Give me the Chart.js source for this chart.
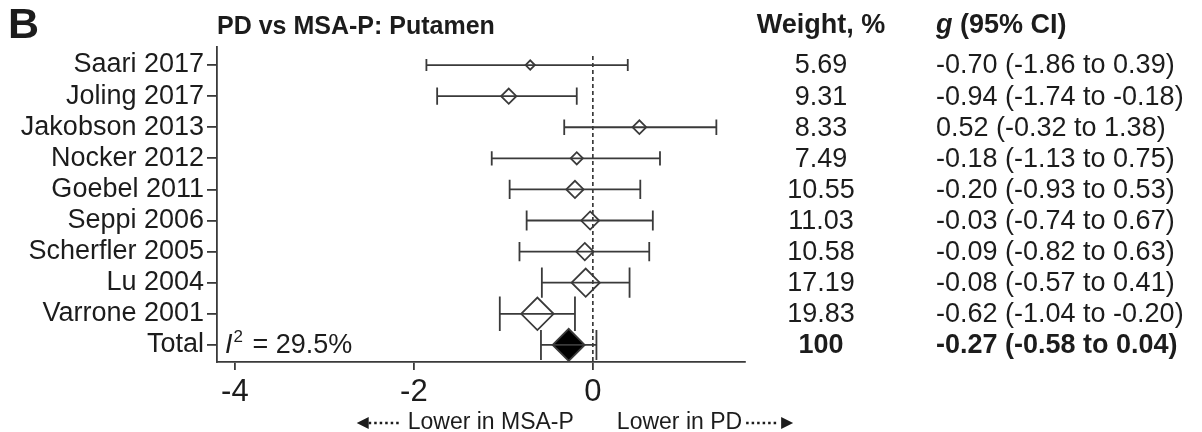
<!DOCTYPE html>
<html>
<head>
<meta charset="utf-8">
<script src="https://cdn.jsdelivr.net/npm/chart.js@4.4.1/dist/chart.umd.min.js"></script>
<style>
  html, body { margin: 0; padding: 0; background: #fff; }
  #wrap { width: 1202px; height: 432px; position: relative; }
</style>
</head>
<body>
<div id="wrap"><canvas id="forest"></canvas></div>
<script>
// --- data ---
const studies = ['Saari 2017', 'Joling 2017', 'Jakobson 2013', 'Nocker 2012', 'Goebel 2011',
                 'Seppi 2006', 'Scherfler 2005', 'Lu 2004', 'Varrone 2001', 'Total'];
const effect  = [-0.70, -0.94, 0.52, -0.18, -0.20, -0.03, -0.09, -0.08, -0.62, -0.27];
const ciLow   = [-1.86, -1.74, -0.32, -1.13, -0.93, -0.74, -0.82, -0.57, -1.04, -0.58];
const ciHigh  = [0.39, -0.18, 1.38, 0.75, 0.53, 0.67, 0.63, 0.41, -0.20, 0.04];
const weights = [5.69, 9.31, 8.33, 7.49, 10.55, 11.03, 10.58, 17.19, 19.83, 100];
const xTicks  = [-4, -2, 0];
const heterogeneity = '29.5%';

const FONT = "'Liberation Sans', Arial, Helvetica, sans-serif";
const INK = '#1c1c1c';
const LINE = '#3a3a3a';
const totalIdx = studies.length - 1;

// marker half-size follows study weight, pooled estimate gets a fixed diamond
const markerSize = weights.map((w, i) => i === totalIdx ? 16 : w * 0.82);

// Helper: font string
function f(size, style) {
    return (style ? style + ' ' : '') + size + 'px ' + FONT;
}

// error bars, dashed null line and the text columns
const forestPlugin = {
    id: 'forest',
    beforeDatasetsDraw(chart) {
        const { ctx, scales: { x, y }, chartArea } = chart;
        const x0 = x.getPixelForValue(0);
        ctx.save();
        ctx.strokeStyle = '#222';
        ctx.lineWidth = 1.5;
        ctx.setLineDash([4, 3]);
        ctx.beginPath();
        ctx.moveTo(x0, chartArea.top + 9);
        ctx.lineTo(x0, chartArea.bottom);
        ctx.stroke();
        ctx.restore();
    },
    afterDatasetsDraw(chart) {
        const { ctx, scales: { x, y } } = chart;
        ctx.save();
        ctx.strokeStyle = LINE;
        ctx.lineWidth = 1.8;
        studies.forEach((_, i) => {
            const py = y.getPixelForValue(i);
            const xl = x.getPixelForValue(ciLow[i]);
            const xh = x.getPixelForValue(ciHigh[i]);
            const cap = i === totalIdx ? 15 : Math.max(markerSize[i] + 1, 6);
            ctx.beginPath();
            ctx.moveTo(xl, py); ctx.lineTo(xh, py);
            ctx.moveTo(xl, py - cap); ctx.lineTo(xl, py + cap);
            ctx.moveTo(xh, py - cap); ctx.lineTo(xh, py + cap);
            ctx.stroke();
        });
        ctx.restore();
    },
    afterDraw(chart) {
        const { ctx, scales: { x, y }, chartArea } = chart;
        ctx.save();
        ctx.fillStyle = INK;
        ctx.textBaseline = 'alphabetic';

        // panel letter and title
        ctx.font = f(43, 'bold');
        ctx.textAlign = 'left';
        ctx.fillText('B', 8, 38);
        ctx.font = f(25, 'bold');
        ctx.fillText('PD vs MSA-P: Putamen', chartArea.left, 34);

        // column headers
        const weightCol = 821;
        const ciCol = 936;
        ctx.font = f(27, 'bold');
        ctx.textAlign = 'center';
        ctx.fillText('Weight, %', weightCol, 33);
        ctx.textAlign = 'left';
        ctx.font = f(27, 'italic bold');
        ctx.fillText('g', ciCol, 33);
        const gw = ctx.measureText('g ').width;
        ctx.font = f(27, 'bold');
        ctx.fillText('(95% CI)', ciCol + gw, 33);

        // rows
        ctx.textBaseline = 'middle';
        studies.forEach((_, i) => {
            const py = y.getPixelForValue(i) + 1;
            const bold = i === totalIdx ? 'bold' : '';
            ctx.font = f(27, bold);
            ctx.textAlign = 'center';
            const wTxt = weights[i] === 100 ? '100' : weights[i].toFixed(2);
            ctx.fillText(wTxt, weightCol, py);
            ctx.textAlign = 'left';
            const ci = `${effect[i].toFixed(2)} (${ciLow[i].toFixed(2)} to ${ciHigh[i].toFixed(2)})`;
            ctx.fillText(ci, ciCol, py);
        });

        // I^2 for the pooled row
        const ty = y.getPixelForValue(totalIdx) + 1;
        let tx = chartArea.left + 8;
        ctx.textAlign = 'left';
        ctx.font = f(27, 'italic');
        ctx.fillText('I', tx, ty);
        tx += ctx.measureText('I').width + 1;
        ctx.font = f(17);
        ctx.fillText('2', tx, ty - 9);
        tx += ctx.measureText('2').width + 2;
        ctx.font = f(27);
        ctx.fillText(' = ' + heterogeneity, tx, ty);

        // direction arrows under the axis
        const x0 = x.getPixelForValue(0);
        const ay = 423;
        ctx.font = f(23);
        ctx.textAlign = 'right';
        ctx.fillText('Lower in MSA-P', x0 - 19, ay);
        const lw = ctx.measureText('Lower in MSA-P').width;
        const leftEnd = x0 - 19 - lw - 6;
        ctx.textAlign = 'left';
        ctx.fillText('Lower in PD', x0 + 24, ay);
        const rw = ctx.measureText('Lower in PD').width;
        const rightStart = x0 + 24 + rw + 4;

        ctx.strokeStyle = INK;
        ctx.lineWidth = 2.5;
        ctx.setLineDash([2.5, 3]);
        ctx.beginPath();
        ctx.moveTo(leftEnd - 33, ay); ctx.lineTo(leftEnd, ay);
        ctx.moveTo(rightStart, ay); ctx.lineTo(rightStart + 33, ay);
        ctx.stroke();
        ctx.setLineDash([]);
        ctx.beginPath();
        ctx.moveTo(leftEnd - 33, ay - 6); ctx.lineTo(leftEnd - 45, ay); ctx.lineTo(leftEnd - 33, ay + 6);
        ctx.closePath();
        ctx.moveTo(rightStart + 35, ay - 6); ctx.lineTo(rightStart + 47, ay); ctx.lineTo(rightStart + 35, ay + 6);
        ctx.closePath();
        ctx.fill();
        ctx.restore();
    }
};

const points = effect.map((v, i) => ({ x: v, y: i }));

new Chart(document.getElementById('forest'), {
    type: 'scatter',
    data: {
        datasets: [{
            data: points,
            pointStyle: 'rectRot',
            pointRadius: markerSize,
            pointHoverRadius: markerSize,
            pointBorderWidth: 1.8,
            pointBorderColor: LINE,
            pointBackgroundColor: studies.map((_, i) => i === totalIdx ? '#000' : 'rgba(255,255,255,0)')
        }]
    },
    options: {
        responsive: true,
        maintainAspectRatio: false,
        animation: false,
        layout: { padding: { top: 47, right: 457, left: 0, bottom: 0 } },
        plugins: {
            legend: { display: false },
            tooltip: { enabled: false }
        },
        scales: {
            x: {
                type: 'linear',
                min: -4.2,
                max: 1.7,
                afterBuildTicks: s => { s.ticks = xTicks.map(v => ({ value: v })); },
                afterFit: s => { s.height = 70; },
                grid: { drawOnChartArea: false, tickLength: 8, color: LINE, lineWidth: 1.8 },
                border: { display: true, color: LINE, width: 1.8 },
                ticks: { color: INK, font: { family: FONT, size: 31 }, padding: 4 }
            },
            y: {
                type: 'linear',
                reverse: true,
                min: -0.58,
                max: 9.55,
                afterBuildTicks: s => { s.ticks = studies.map((_, i) => ({ value: i })); },
                afterFit: s => { s.width = 217; },
                grid: { drawOnChartArea: false, tickLength: 10, color: LINE, lineWidth: 1.8 },
                border: { display: true, color: LINE, width: 1.8 },
                ticks: {
                    color: INK,
                    font: { family: FONT, size: 27 },
                    padding: 3,
                    autoSkip: false,
                    callback: v => studies[v] ?? ''
                }
            }
        }
    },
    plugins: [forestPlugin]
});
</script>
</body>
</html>
